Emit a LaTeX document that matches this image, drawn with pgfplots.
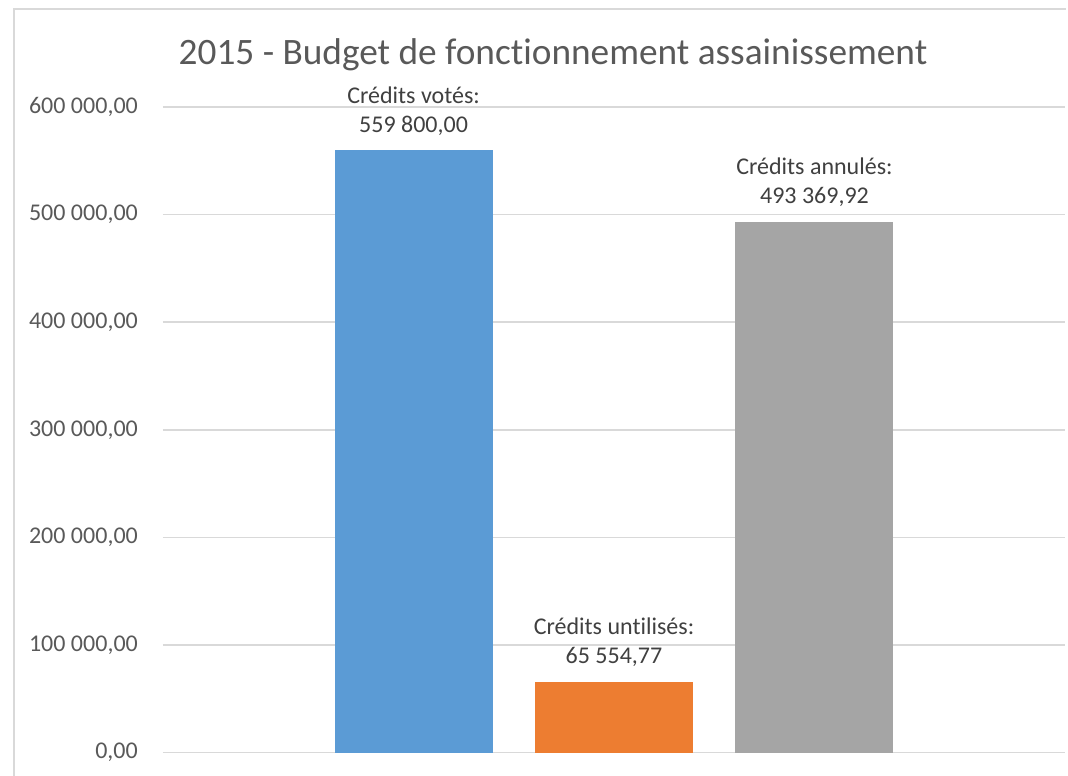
\documentclass[border=0pt]{standalone}
\usepackage{fontspec}
\setmainfont[Ligatures={NoCommon,NoContextual}]{Carlito}
\usepackage{pgfplots}
\pgfplotsset{compat=1.18}
\definecolor{cblue}{HTML}{5B9BD5}
\definecolor{corange}{HTML}{ED7D31}
\definecolor{cgray}{HTML}{A5A5A5}
\definecolor{gridc}{HTML}{D9D9D9}
\definecolor{tickc}{HTML}{595959}
\definecolor{labc}{HTML}{404040}
\begin{document}
\begin{tikzpicture}
\useasboundingbox (0pt,0pt) rectangle (1068pt,776pt);
\begin{scope}
\clip (0pt,0pt) rectangle (1068pt,776pt);
\draw[gridc, line width=1.5pt] (14pt,-10pt) -- (14pt,767pt) -- (1100pt,767pt);
\end{scope}
\node[anchor=base, text=tickc, font=\fontsize{37.3}{45}\selectfont, inner sep=0pt] at (553pt,711pt) {2015 - Budget de fonctionnement assainissement};
\begin{axis}[
  at={(163pt,23.3pt)}, anchor=south west, scale only axis,
  width=902pt, height=645.7pt,
  xmin=-1.25, xmax=3.25, ymin=0, ymax=600000,
  ytick={0,100000,200000,300000,400000,500000,600000},
  yticklabels={{0,00},{100 000,00},{200 000,00},{300 000,00},{400 000,00},{500 000,00},{600 000,00}},
  scaled y ticks=false,
  xtick=\empty,
  axis line style={draw=none},
  major tick length=0pt,
  ymajorgrids,
  grid style={gridc, line width=1.5pt},
  yticklabel style={font=\fontsize{24}{29}\selectfont, text=tickc, anchor=east, inner sep=0pt, xshift=-25pt},
  ybar, bar width=158pt,
  clip=false,
]
\addplot[fill=cblue, draw=none, bar shift=0pt] coordinates {(0,559800)};
\addplot[fill=corange, draw=none, bar shift=0pt] coordinates {(1,65554.77)};
\addplot[fill=cgray, draw=none, bar shift=0pt] coordinates {(2,493369.92)};
\node[anchor=base, inner sep=0pt, text=labc, font=\fontsize{24}{29}\selectfont, yshift=17.5pt] at (axis cs:0,559800) {559 800,00};
\node[anchor=base, inner sep=0pt, text=labc, font=\fontsize{24}{29}\selectfont, yshift=47pt] at (axis cs:0,559800) {Crédits votés:};
\node[anchor=base, inner sep=0pt, text=labc, font=\fontsize{24}{29}\selectfont, yshift=18.5pt] at (axis cs:1,65554.77) {65 554,77};
\node[anchor=base, inner sep=0pt, text=labc, font=\fontsize{24}{29}\selectfont, yshift=47.5pt] at (axis cs:1,65554.77) {Crédits untilisés:};
\node[anchor=base, inner sep=0pt, text=labc, font=\fontsize{24}{29}\selectfont, yshift=18.5pt] at (axis cs:2,493369.92) {493 369,92};
\node[anchor=base, inner sep=0pt, text=labc, font=\fontsize{24}{29}\selectfont, yshift=47pt] at (axis cs:2,493369.92) {Crédits annulés:};
\end{axis}
\fill[white] (1066pt,0pt) rectangle (1068pt,776pt);
\end{tikzpicture}
\end{document}
